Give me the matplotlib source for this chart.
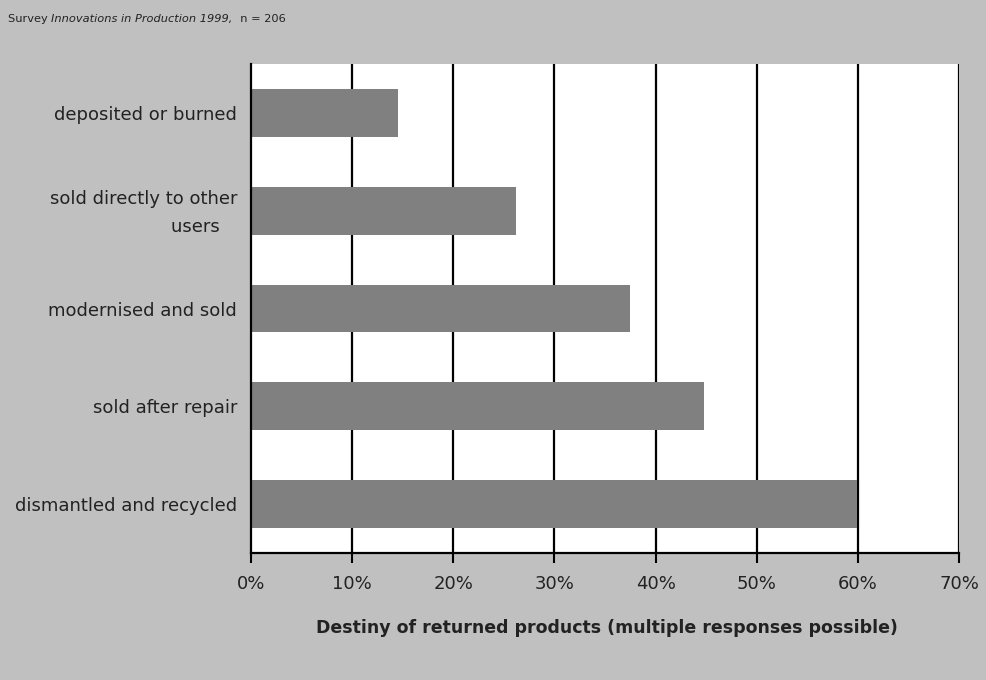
import numpy as np
import matplotlib.pyplot as plt
import matplotlib.transforms as mtransforms

categories = ["dismantled and recycled", "sold after repair", "modernised and sold",
              "sold directly to other\nusers   ", "deposited or burned"]
values = [59.9, 44.8, 37.5, 26.2, 14.5]
xticks = [0, 10, 20, 30, 40, 50, 60, 70]

BG = "#c0c0c0"
BAR = "#808080"

plt.rcParams['font.family'] = ['DejaVu Sans']

fig = plt.figure(figsize=(9.86, 6.8), dpi=100, facecolor=BG)
# axes box in pixels: left 251, right 959, top 64, bottom 553
ax = fig.add_axes([251 / 986, 1 - 553 / 680, (959 - 251) / 986, (553 - 64) / 680])
ax.set_facecolor("white")

y = np.arange(len(categories))
ax.barh(y, values, height=0.49, color=BAR, zorder=2)

ax.set_xlim(0, 70)
ax.set_ylim(-0.5, len(categories) - 0.5)
ax.set_xticks(xticks)
ax.set_xticklabels([f"{v}%" for v in xticks], fontsize=13, color="#222222")
ax.set_yticks(y)
ax.set_yticklabels(categories, fontsize=13, color="#222222", multialignment="right",
                   linespacing=1.75)
ax.tick_params(axis="y", length=0, pad=10)
ax.tick_params(axis="x", length=7, width=1.5, direction="out", pad=9)

# the two-line label sits a bit high in the original
lab = ax.get_yticklabels()[3]
lab.set_transform(lab.get_transform() + mtransforms.ScaledTranslation(0, 5 / 100, fig.dpi_scale_trans))

for v in xticks[1:]:
    ax.axvline(v, color="black", lw=1.6, zorder=1)

for s in ["top", "right"]:
    ax.spines[s].set_visible(False)
for s in ["left", "bottom"]:
    ax.spines[s].set_linewidth(1.6)
    ax.spines[s].set_zorder(3)

fig.text(607 / 986, 1 - 628 / 680, "Destiny of returned products (multiple responses possible)",
         ha="center", va="center", fontsize=12.5, fontweight="bold", color="#222222")

# source note with italic part
fig.canvas.draw()
r = fig.canvas.get_renderer()
xpos = 8
for txt, style in [("Survey ", "normal"), ("Innovations in Production 1999,", "italic"), ("  n = 206", "normal")]:
    t = fig.text(xpos / 986, 1 - 19 / 680, txt, ha="left", va="center", fontsize=8.2,
                 style=style, color="#222222")
    bb = t.get_window_extent(renderer=r)
    xpos = bb.x1

fig.savefig("out.png", facecolor=BG)
